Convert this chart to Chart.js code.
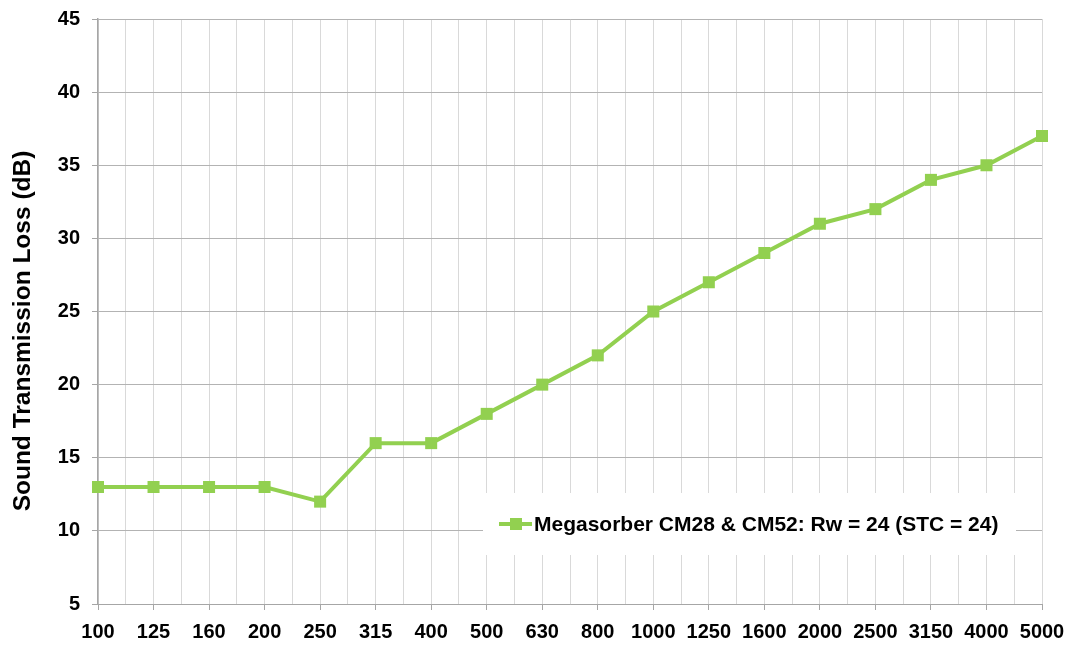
<!DOCTYPE html>
<html>
<head>
<meta charset="utf-8">
<script src="https://cdn.jsdelivr.net/npm/chart.js@4/dist/chart.umd.min.js"></script>
<style>
  html, body { margin: 0; padding: 0; background: #fff; }
  #wrap { width: 1068px; height: 646px; }
</style>
</head>
<body>
<div id="wrap"><canvas id="chart"></canvas></div>
<script>
// third-octave band centre frequencies (Hz)
const freqLabels = ["100", "125", "160", "200", "250", "315", "400", "500", "630", "800",
  "1000", "1250", "1600", "2000", "2500", "3150", "4000", "5000"];
// measured transmission loss (dB)
const lossValues = [13, 13, 13, 13, 12, 16, 16, 18, 20, 22, 25, 27, 29, 31, 32, 34, 35, 37];
const seriesName = "Megasorber CM28 & CM52: Rw = 24 (STC = 24)";
const yTitle = "Sound Transmission Loss (dB)";
const yMin = 5, yMax = 45, yStep = 5;

const green = "#92d050";
const fontFam = "'Liberation Sans', Arial, sans-serif";

// y axis title drawn by hand so it can sit a bit lower than centre
const yTitlePlugin = {
  id: "yTitle",
  afterDraw(chart) {
    const ctx = chart.ctx;
    ctx.save();
    ctx.translate(23, 331);
    ctx.rotate(-Math.PI / 2);
    ctx.font = "bold 24.5px " + fontFam;
    ctx.fillStyle = "#000";
    ctx.textAlign = "center";
    ctx.textBaseline = "middle";
    ctx.fillText(yTitle, 0, 0);
    ctx.restore();
  }
};

// legend box inside the plot area, covering the gridlines
const insideLegend = {
  id: "insideLegend",
  beforeDatasetsDraw(chart) {
    const ctx = chart.ctx;
    const ds = chart.data.datasets[0];
    ctx.save();
    ctx.fillStyle = "#fff";
    ctx.fillRect(483, 493, 533, 62);
    const cy = 524;
    ctx.strokeStyle = ds.borderColor;
    ctx.lineWidth = 4;
    ctx.beginPath();
    ctx.moveTo(499, cy);
    ctx.lineTo(532, cy);
    ctx.stroke();
    ctx.fillStyle = ds.backgroundColor;
    ctx.fillRect(510, cy - 6, 12, 12);
    ctx.fillStyle = "#000";
    ctx.font = "bold 21px " + fontFam;
    ctx.textBaseline = "middle";
    ctx.fillText(ds.label, 534, cy + 1);
    ctx.restore();
  }
};

new Chart(document.getElementById("chart"), {
  type: "line",
  data: {
    datasets: [{
      label: seriesName,
      data: lossValues.map((v, i) => ({ x: i, y: v })),
      borderColor: green,
      backgroundColor: green,
      borderWidth: 4,
      tension: 0,
      clip: false,
      pointStyle: "rect",
      pointRadius: 8.5,
      pointHoverRadius: 8.5,
      pointBorderWidth: 0,
    }]
  },
  options: {
    responsive: true,
    maintainAspectRatio: false,
    animation: false,
    layout: { padding: { top: 19, right: 26, left: 0, bottom: 0 } },
    plugins: {
      legend: { display: false },
      tooltip: { enabled: false },
    },
    scales: {
      x: {
        type: "linear",
        min: 0,
        max: freqLabels.length - 1,
        afterFit: (s) => {
          s.height = 42;
          s.paddingLeft = 0;
          s.paddingRight = 0;
        },
        afterBuildTicks: (s) => {
          const t = [];
          for (let v = 0; v <= freqLabels.length - 1; v += 0.5) t.push({ value: v });
          s.ticks = t;
        },
        border: { color: "#a6a6a6", width: 1 },
        grid: {
          color: "#d9d9d9",
          lineWidth: 1,
          tickLength: 6,
          tickColor: (c) => Number.isInteger(c.tick && c.tick.value) ? "#a6a6a6" : "rgba(0,0,0,0)",
        },
        ticks: {
          autoSkip: false,
          maxRotation: 0,
          padding: 10,
          color: "#000",
          font: { family: fontFam, size: 20, weight: "bold" },
          callback: (v) => Number.isInteger(v) ? freqLabels[v] : "",
        },
      },
      y: {
        min: yMin,
        max: yMax,
        afterFit: (s) => {
          s.width = 98;
          s.paddingTop = 0;
          s.paddingBottom = 0;
        },
        border: { color: "#a6a6a6", width: 1.5 },
        grid: { color: "#b3b3b3", lineWidth: 1, tickLength: 6, tickColor: "#a6a6a6" },
        ticks: {
          stepSize: yStep,
          padding: 12,
          color: "#000",
          font: { family: fontFam, size: 20, weight: "bold" },
        },
      },
    },
  },
  plugins: [insideLegend, yTitlePlugin],
});
</script>
</body>
</html>
